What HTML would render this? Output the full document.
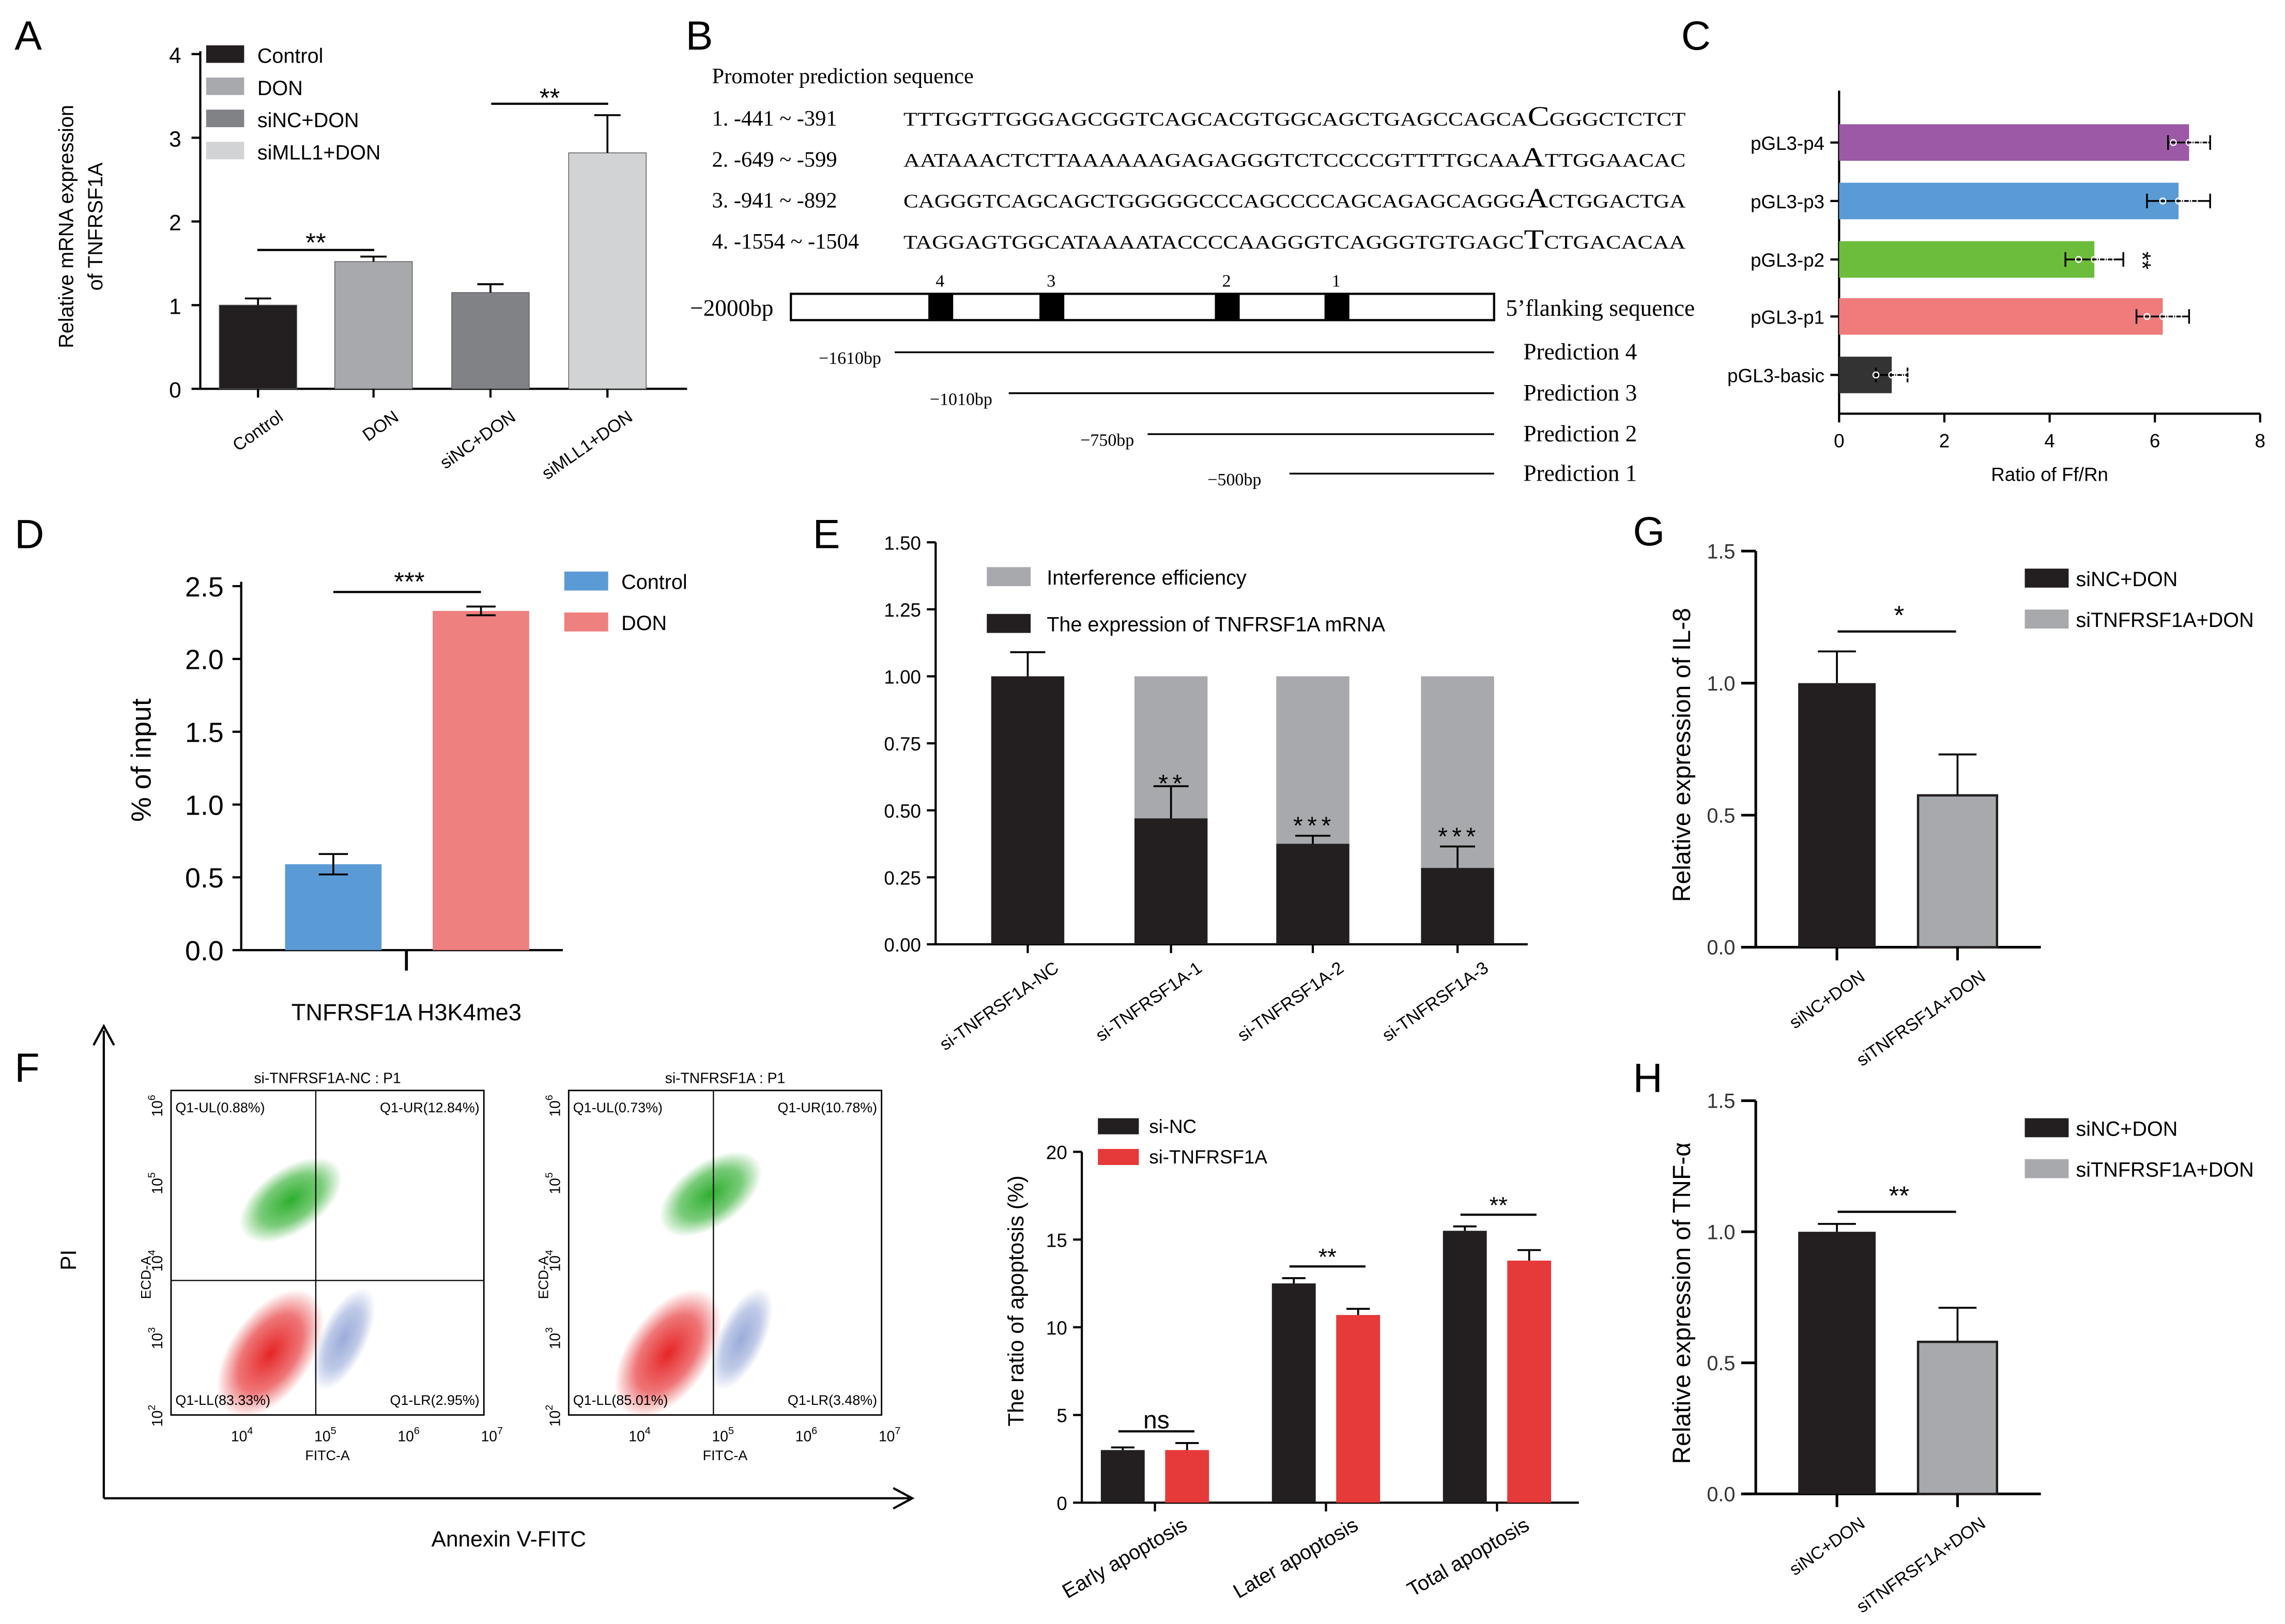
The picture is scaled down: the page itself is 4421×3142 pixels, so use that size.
<!DOCTYPE html>
<html><head><meta charset="utf-8"><style>
html,body{margin:0;padding:0;background:#fff;}
svg{display:block;font-family:"Liberation Sans",Arial,sans-serif;}
.serif{font-family:"Liberation Serif","Times New Roman",serif;}
</style></head><body>
<svg id="fig" width="4421" height="3142" viewBox="0 0 1563 1111" preserveAspectRatio="none" xmlns="http://www.w3.org/2000/svg">
<rect width="1563" height="1111" fill="#fff"/>
<g id="root"></g>
</svg>
<script>
// ---- Data ----
const aCats = ["Control","DON","siNC+DON","siMLL1+DON"];
const aVals = [1.0,1.52,1.15,2.82];
const aErr = [0.08,0.06,0.1,0.45];
const aTicks = [0,1,2,3,4];
const cCats = ["pGL3-p4","pGL3-p3","pGL3-p2","pGL3-p1","pGL3-basic"];
const cVals = [6.65,6.45,4.85,6.15,1.0];
const cErr = [0.4,0.6,0.55,0.5,0.3];
const cTicks = [0,2,4,6,8];
const dCats = ["Control","DON"];
const dVals = [0.59,2.33];
const dErr = [0.07,0.03];
const dTicks = [0,0.5,1.0,1.5,2.0,2.5];
const eCats = ["si-TNFRSF1A-NC","si-TNFRSF1A-1","si-TNFRSF1A-2","si-TNFRSF1A-3"];
const eVals = [1.0,0.47,0.375,0.285];
const eErr = [0.09,0.12,0.03,0.08];
const eTicks = [0,0.25,0.5,0.75,1.0,1.25,1.5];
const gVals = [1.0,0.575];
const gErr = [0.12,0.155];
const hVals = [1.0,0.58];
const hErr = [0.03,0.13];
const ghCats = ["siNC+DON","siTNFRSF1A+DON"];
const ghTicks = [0,0.5,1.0,1.5];
const fCats = ["Early apoptosis","Later apoptosis","Total apoptosis"];
const fNC = [3.0,12.5,15.5];
const fSi = [3.0,10.7,13.8];
const fErrNC = [0.15,0.3,0.25];
const fErrSi = [0.4,0.35,0.6];
const fTicks = [0,5,10,15,20];

const NS="http://www.w3.org/2000/svg";
const root=document.getElementById('root');
function el(tag,attrs,parent,text){const e=document.createElementNS(NS,tag);for(const k in attrs)e.setAttribute(k,attrs[k]);if(text!==undefined)e.textContent=text;(parent||root).appendChild(e);return e;}
function grp(name){const g=document.createElementNS(NS,'g');


root.appendChild(g);return g;}
function lin(d0,d1,r0,r1){return v=>r0+(v-d0)*(r1-r0)/(d1-d0);}
function line(g,x1,y1,x2,y2,w,c){return el('line',{x1,y1,x2,y2,stroke:c||'#000','stroke-width':w||1.5},g);}
function errV(g,x,y1,y2,cap){line(g,x,y1,x,y2,1.3);line(g,x-cap,y2,x+cap,y2,1.3);}
function panelLabel(t,x,y){const e=el('text',{x,y,'font-size':28,fill:'#000'},root,t);

}

// ===== Panel A =====
panelLabel('A',10,34);
(function(){const g=grp('panel-a-chart');
const y=lin(0,4,266,37);const xs=[150,229,309,389],w=53;const cols=['#231f20','#a7a9ac','#808285','#d1d3d4'];
line(g,137,35,137,266);line(g,137,266,470,266);
aTicks.forEach(t=>{line(g,131,y(t),137,y(t));el('text',{x:124,y:y(t)+6,'font-size':15,'text-anchor':'end'},g,t);});
aVals.forEach((v,i)=>{const r=el('rect',{x:xs[i],y:y(v),width:w,height:266-y(v),fill:cols[i],stroke:'#555','stroke-width':0.5},g);


errV(g,xs[i]+w/2,y(v),y(v+aErr[i]),9);
line(g,xs[i]+w/2,266,xs[i]+w/2,272);
el('text',{x:xs[i]+w/2+18,y:287,'font-size':12,'text-anchor':'end',transform:`rotate(-35 ${xs[i]+w/2+18} 287)`},g,aCats[i]);});
line(g,176,171,256,171);el('text',{x:216,y:172,'font-size':18,'text-anchor':'middle'},g,'**');
line(g,336,71,416,71);el('text',{x:376,y:73,'font-size':18,'text-anchor':'middle'},g,'**');
const yl=el('text',{x:0,y:0,'font-size':14,'text-anchor':'middle',transform:'translate(50,155) rotate(-90)'},g);
el('tspan',{x:0,dy:0},yl,'Relative mRNA expression');el('tspan',{x:0,dy:20},yl,'of TNFRSF1A');
aCats.forEach((c,i)=>{const r=el('rect',{x:141,y:31+i*22,width:26,height:12,fill:cols[i]},g);


el('text',{x:176,y:43+i*22,'font-size':14},g,c);});
})();

// ===== Panel B =====
panelLabel('B',469,34);
(function(){const g=grp('panel-b-promoter');
el('text',{x:487,y:57,'font-size':15,class:'serif'},g,'Promoter prediction sequence');
const L=[['1. -441 ~ -391','TTTGGTTGGGAGCGGTCAGCACGTGGCAGCTGAGCCAGCA','C','GGGCTCTCT'],
['2. -649 ~ -599','AATAAACTCTTAAAAAAGAGAGGGTCTCCCCGTTTTGCAA','A','TTGGAACAC'],
['3. -941 ~ -892','CAGGGTCAGCAGCTGGGGGCCCAGCCCCAGCAGAGCAGGG','A','CTGGACTGA'],
['4. -1554 ~ -1504','TAGGAGTGGCATAAAATACCCCAAGGGTCAGGGTGTGAGC','T','CTGACACAA']];
L.forEach((l,i)=>{const yy=86+i*28;el('text',{x:487,y:yy,'font-size':15,class:'serif'},g,l[0]);
const t=el('text',{x:618,y:yy,'font-size':13.2,class:'serif',textLength:535,lengthAdjust:'spacingAndGlyphs'},g);
el('tspan',{},t,l[1]);el('tspan',{'font-size':19},t,l[2]);el('tspan',{},t,l[3]);});
el('text',{x:472,y:216,'font-size':16,class:'serif'},g,'−2000bp');
el('rect',{x:541,y:201,width:481,height:18,fill:'#fff',stroke:'#000','stroke-width':1.5},g);
[[635,'4'],[711,'3'],[831,'2'],[906,'1']].forEach(b=>{el('rect',{x:b[0],y:201,width:17,height:18,fill:'#000'},g);el('text',{x:b[0]+8,y:196,'font-size':12,'text-anchor':'middle',class:'serif'},g,b[1]);});
el('text',{x:1030,y:216,'font-size':16,class:'serif'},g,'5’flanking sequence');
[[560,612,'−1610bp','Prediction 4',245],[636,690,'−1010bp','Prediction 3',273],[739,785,'−750bp','Prediction 2',301],[826,882,'−500bp','Prediction 1',328]].forEach(p=>{
el('text',{x:p[0],y:p[4]+4,'font-size':12,class:'serif'},g,p[2]);line(g,p[1],p[4]-4,1022,p[4]-4,1.2);
el('text',{x:1042,y:p[4]+1,'font-size':16,class:'serif'},g,p[3]);});
})();

// ===== Panel C =====
panelLabel('C',1150,34);
(function(){const g=grp('panel-c-chart');
const x=lin(0,8,1258,1546);const ys=[85,125,165,204,244],h=25;const cols=['#9b59a6','#5b9bd5','#6cbd3c','#ef7b7b','#333333'];
line(g,1258,62,1258,283);line(g,1258,283,1546,283);
cTicks.forEach(t=>{line(g,x(t),283,x(t),289);el('text',{x:x(t),y:306,'font-size':13,'text-anchor':'middle'},g,t);});
el('text',{x:1402,y:329,'font-size':13,'text-anchor':'middle'},g,'Ratio of Ff/Rn');
cVals.forEach((v,i)=>{const r=el('rect',{x:1258,y:ys[i],width:x(v)-1258,height:h,fill:cols[i]},g);


const cy=ys[i]+h/2;line(g,x(v-cErr[i]),cy,x(v+cErr[i]),cy,1.2);line(g,x(v+cErr[i]),cy-5,x(v+cErr[i]),cy+5,1.2);line(g,x(v-cErr[i]),cy-5,x(v-cErr[i]),cy+5,1.2);
[-0.3,0,0.15,0.3].forEach(d=>el('circle',{cx:x(v+d),cy:cy,r:2,fill:'none',stroke:'#fff','stroke-width':0.8},g));
line(g,1252,cy,1258,cy);el('text',{x:1248,y:cy+5,'font-size':13,'text-anchor':'end'},g,cCats[i]);});
el('text',{x:1460,y:172,'font-size':16,transform:'rotate(90 1460 172)'},g,'**');
})();

// ===== Panel D =====
panelLabel('D',10,375);
(function(){const g=grp('panel-d-chart');
const y=lin(0,2.5,650,401);const xs=[195,296],w=66,cols=['#5b9bd5','#ef8080'];
line(g,165,398,165,650);line(g,165,650,385,650);line(g,278,650,278,664,2);
dTicks.forEach(t=>{line(g,159,y(t),165,y(t));el('text',{x:153,y:y(t)+7,'font-size':19,'text-anchor':'end'},g,t.toFixed(1));});
dVals.forEach((v,i)=>{const r=el('rect',{x:xs[i],y:y(v),width:w,height:650-y(v),fill:cols[i]},g);


errV(g,xs[i]+w/2,y(v),y(v+dErr[i]),10);errV(g,xs[i]+w/2,y(v),y(v-dErr[i]),10);});
line(g,228,405,329,405);el('text',{x:280,y:404,'font-size':18,'text-anchor':'middle'},g,'***');
el('text',{x:0,y:0,'font-size':19,'text-anchor':'middle',transform:'translate(103,520) rotate(-90)'},g,'%  of  input');
el('text',{x:278,y:698,'font-size':16,'text-anchor':'middle'},g,'TNFRSF1A  H3K4me3');
dCats.forEach((c,i)=>{el('rect',{x:386,y:391+i*28,width:30,height:13,fill:cols[i]},g);el('text',{x:425,y:403+i*28,'font-size':14},g,c);});
})();

// ===== Panel E =====
panelLabel('E',556,375);
(function(){const g=grp('panel-e-chart');
const y=lin(0,1.5,646,371);const xs=[678,776,873,972],w=50;
line(g,640,371,640,646);line(g,640,646,1045,646);
eTicks.forEach(t=>{line(g,634,y(t),640,y(t));el('text',{x:630,y:y(t)+5,'font-size':13,'text-anchor':'end'},g,t.toFixed(2));});
eVals.forEach((v,i)=>{if(i>0){el('rect',{x:xs[i],y:y(1),width:w,height:y(v)-y(1),fill:'#a7a9ac'},g);}
const r=el('rect',{x:xs[i],y:y(v),width:w,height:646-y(v),fill:'#231f20'},g);


errV(g,xs[i]+w/2,y(v),y(v+eErr[i]),12);line(g,xs[i]+w/2,646,xs[i]+w/2,652);
el('text',{x:xs[i]+w/2+22,y:664,'font-size':12,'text-anchor':'end',transform:`rotate(-35 ${xs[i]+w/2+22} 664)`},g,eCats[i]);
if(i>0)el('text',{x:xs[i]+w/2+1,y:y(v+eErr[i])+(i==1?4:-1),'font-size':17,'text-anchor':'middle','letter-spacing':3},g,i==1?'**':'***');});
el('rect',{x:675,y:388,width:30,height:13,fill:'#a7a9ac'},g);el('text',{x:716,y:400,'font-size':14},g,'Interference efficiency');
el('rect',{x:675,y:420,width:30,height:13,fill:'#231f20'},g);el('text',{x:716,y:432,'font-size':14},g,'The expression of TNFRSF1A mRNA');
})();

// ===== Panels G & H =====
function ghPanel(name,L,y0,yTop,vals,errs,ylabel,star,starY){
panelLabel(L,1117,y0-275);
const g=grp('panel-'+L.toLowerCase()+'-chart');
const AX=1201;
const y=lin(0,1.5,y0,yTop);const xs=[1230,1312],w=[53,54],cols=['#231f20','#a7a9ac'];
line(g,AX,yTop,AX,y0,1.8);line(g,AX-10,y0,1396,y0,1.8);
ghTicks.forEach(t=>{line(g,AX-10,y(t),AX,y(t),1.8);el('text',{x:AX-14,y:y(t)+5,'font-size':14,'text-anchor':'end',fill:'#333'},g,t.toFixed(1));});
vals.forEach((v,i)=>{const r=el('rect',{x:xs[i],y:y(v),width:w[i],height:y0-y(v),fill:cols[i],stroke:i?'#231f20':'none','stroke-width':1.6},g);


errV(g,xs[i]+w[i]/2,y(v),y(v+errs[i]),13);line(g,xs[i]+w[i]/2,y0,xs[i]+w[i]/2,y0+9,1.8);
el('text',{x:xs[i]+w[i]/2+20,y:y0+22,'font-size':12,'text-anchor':'end',transform:`rotate(-35 ${xs[i]+w[i]/2+20} ${y0+22})`},g,ghCats[i]);});
line(g,1257,starY,1338,starY);el('text',{x:1299,y:starY-5,'font-size':18,'text-anchor':'middle'},g,star);
el('text',{x:0,y:0,'font-size':17,'text-anchor':'middle',transform:`translate(1156,${(y0+yTop)/2+4}) rotate(-90)`},g,ylabel);
ghCats.forEach((c,i)=>{el('rect',{x:1385,y:yTop+12+i*28,width:30,height:13,fill:cols[i]},g);el('text',{x:1420,y:yTop+24+i*28,'font-size':14},g,c);});
}
ghPanel('g','G',648,377,gVals,gErr,'Relative expression of IL-8','*',432);
ghPanel('h','H',1022,753,hVals,hErr,'Relative expression of TNF-α','**',829);

// ===== Panel F flow =====
panelLabel('F',10,740);
(function(){const g=grp('panel-f-flow');
line(g,71,705,71,1025,1.5);el('path',{d:'M64,715 L71,702 L78,715',fill:'none',stroke:'#000','stroke-width':1.5},g);
line(g,71,1025,622,1025,1.5);el('path',{d:'M611,1018 L624,1025 L611,1032',fill:'none',stroke:'#000','stroke-width':1.5},g);
el('text',{x:0,y:0,'font-size':15,'text-anchor':'middle',transform:'translate(52,862) rotate(-90)'},g,'PI');
el('text',{x:348,y:1058,'font-size':15,'text-anchor':'middle'},g,'Annexin V-FITC');
const plots=[[117,'si-TNFRSF1A-NC : P1',['Q1-UL(0.88%)','Q1-UR(12.84%)','Q1-LL(83.33%)','Q1-LR(2.95%)']],[389,'si-TNFRSF1A : P1',['Q1-UL(0.73%)','Q1-UR(10.78%)','Q1-LL(85.01%)','Q1-LR(3.48%)']]];
const defs=el('defs',{},g);
[['gr','#22aa22'],['rd','#e41a1c'],['bl','#2b4fb0']].forEach(c=>{const rg=el('radialGradient',{id:c[0]},defs);el('stop',{offset:'0','stop-color':c[1],'stop-opacity':0.95},rg);el('stop',{offset:'0.6','stop-color':c[1],'stop-opacity':0.6},rg);el('stop',{offset:'1','stop-color':c[1],'stop-opacity':0},rg);});
plots.forEach((p,k)=>{const x0=p[0],y0=746,W=214,H=222;const qx=x0+99,qy=y0+130;
el('text',{x:x0+107,y:y0-5,'font-size':10,'text-anchor':'middle'},g,p[1]);
el('rect',{x:x0,y:y0,width:W,height:H,fill:'#fff',stroke:'#000','stroke-width':1},g);
el('ellipse',{cx:x0+82+k*18,cy:y0+75-k*5,rx:40,ry:22,transform:`rotate(-35 ${x0+82+k*18} ${y0+75})`,fill:'url(#gr)'},g);
el('ellipse',{cx:x0+118,cy:y0+170,rx:16,ry:38,transform:`rotate(25 ${x0+118} ${y0+170})`,fill:'url(#bl)',opacity:0.5},g);
el('ellipse',{cx:x0+68,cy:y0+180,rx:50,ry:28,transform:`rotate(-55 ${x0+68} ${y0+180})`,fill:'url(#rd)'},g);
line(g,qx,y0,qx,y0+H,0.8);if(k===0)line(g,x0,qy,x0+W,qy,0.8);
el('text',{x:x0+3,y:y0+15,'font-size':9.5},g,p[2][0]);el('text',{x:x0+W-3,y:y0+15,'font-size':9.5,'text-anchor':'end'},g,p[2][1]);
el('text',{x:x0+3,y:y0+H-7,'font-size':9.5},g,p[2][2]);el('text',{x:x0+W-3,y:y0+H-7,'font-size':9.5,'text-anchor':'end'},g,p[2][3]);
['4','5','6','7'].forEach((e,j)=>{const tx=x0+47+j*57;const t=el('text',{x:tx-6,y:y0+H+18,'font-size':10},g,'10');el('tspan',{dy:-5,'font-size':7},t,e);});
el('text',{x:x0+107,y:y0+H+31,'font-size':9.5,'text-anchor':'middle'},g,'FITC-A');
['2','3','4','5','6'].forEach((e,j)=>{const ty=y0+H-j*53;const t=el('text',{x:0,y:0,'font-size':10,transform:`translate(${x0-6},${ty+8}) rotate(-90)`},g,'10');el('tspan',{dy:-5,'font-size':7},t,e);});
el('text',{x:0,y:0,'font-size':9.5,'text-anchor':'middle',transform:`translate(${x0-14},${y0+128}) rotate(-90)`},g,'ECD-A');
});
})();

// ===== Panel F bar chart =====
(function(){const g=grp('panel-f-bars');
const y=lin(0,20,1028,788);const xs=[753,870,987],w=30;
line(g,740,788,740,1028);line(g,740,1028,1080,1028);
fTicks.forEach(t=>{line(g,734,y(t),740,y(t));el('text',{x:730,y:y(t)+5,'font-size':13,'text-anchor':'end'},g,t);});
el('text',{x:0,y:0,'font-size':15,'text-anchor':'middle',transform:'translate(700,890) rotate(-90)'},g,'The ratio of apoptosis (%)');
fCats.forEach((c,i)=>{const x=xs[i];
const r1=el('rect',{x:x,y:y(fNC[i]),width:w,height:1028-y(fNC[i]),fill:'#231f20'},g);


const r2=el('rect',{x:x+44,y:y(fSi[i]),width:w,height:1028-y(fSi[i]),fill:'#e63939'},g);


errV(g,x+w/2,y(fNC[i]),y(fNC[i]+fErrNC[i]),8);errV(g,x+44+w/2,y(fSi[i]),y(fSi[i]+fErrSi[i]),8);
line(g,x+37,1028,x+37,1034);
el('text',{x:x+60,y:1046,'font-size':14,'text-anchor':'end',transform:`rotate(-30 ${x+60} 1046)`},g,c);
const top=Math.max(fNC[i]+fErrNC[i],fSi[i]+fErrSi[i]);const sy=y(top)-8;line(g,x+12,sy,x+64,sy);
el('text',{x:x+38,y:sy-(i==0?2:1),'font-size':i==0?17:16,'text-anchor':'middle'},g,i==0?'ns':'**');});
el('rect',{x:751,y:765,width:28,height:11,fill:'#231f20'},g);el('text',{x:786,y:775,'font-size':13},g,'si-NC');
el('rect',{x:751,y:786,width:28,height:11,fill:'#e63939'},g);el('text',{x:786,y:796,'font-size':13},g,'si-TNFRSF1A');
})();
</script>
</body></html>
